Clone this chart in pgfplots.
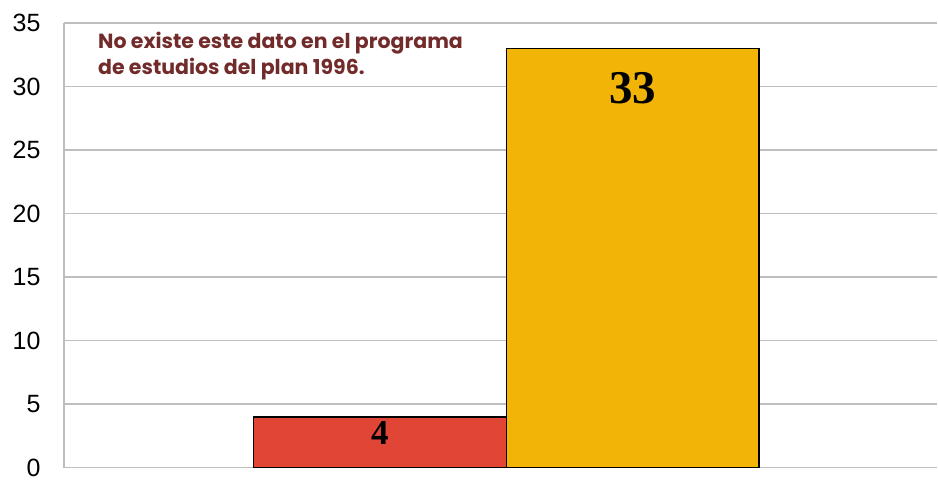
\documentclass[border=0pt]{standalone}
\usepackage{fontspec}
\setmainfont{Liberation Sans}
\newfontfamily\numfont{Liberation Serif}
\newfontfamily\notefont{Poppins}
\usepackage{pgfplots}
\pgfplotsset{compat=1.18}
\definecolor{barred}{HTML}{E04535}
\definecolor{barorange}{HTML}{F2B406}
\definecolor{notecol}{HTML}{722B2B}
\definecolor{gridgray}{HTML}{BEBEBE}
\begin{document}
\begin{tikzpicture}[x=1bp,y=1bp]
\path (-64bp,-11bp) rectangle (874bp,468bp);
\begin{axis}[
  scale only axis, width=874bp, height=445bp,
  at={(0,0)}, anchor=south west,
  xmin=0, xmax=3.4545, ymin=0, ymax=35,
  ytick={0,5,...,35}, xtick=\empty,
  axis lines*=left,
  axis line style={gridgray, line width=1.5bp},
  ymajorgrids, grid style={gridgray, line width=1.5bp},
  major tick style={draw=none},
  /pgf/number format/assume math mode=true,
  yticklabel style={font=\fontsize{25bp}{28bp}\selectfont, text=black, xshift=-20bp},
  ybar, bar width=1, bar shift=0pt,
  every axis plot/.append style={draw=black, line width=1.5bp},
  clip=false,
]
\addplot[fill=barred] coordinates {(1.25,4)};
\addplot[fill=barorange] coordinates {(2.25,33)};
\node[anchor=center, font=\numfont\bfseries\fontsize{35bp}{36bp}\selectfont] at (axis cs:1.25,2.7) {4};
\node[anchor=center, font=\numfont\bfseries\fontsize{47bp}{50bp}\selectfont] at (axis cs:2.25,29.9) {33};
\node[anchor=base west, align=left, inner sep=0pt, text=notecol, font=\notefont\bfseries\fontsize{20.5bp}{27bp}\selectfont] at (axis cs:0.1344,33.03) {No existe este dato en el programa};
\node[anchor=base west, align=left, inner sep=0pt, text=notecol, font=\notefont\bfseries\fontsize{20.5bp}{27bp}\selectfont] at (axis cs:0.1344,30.91) {de estudios del plan 1996.};
\end{axis}
\end{tikzpicture}
\end{document}
